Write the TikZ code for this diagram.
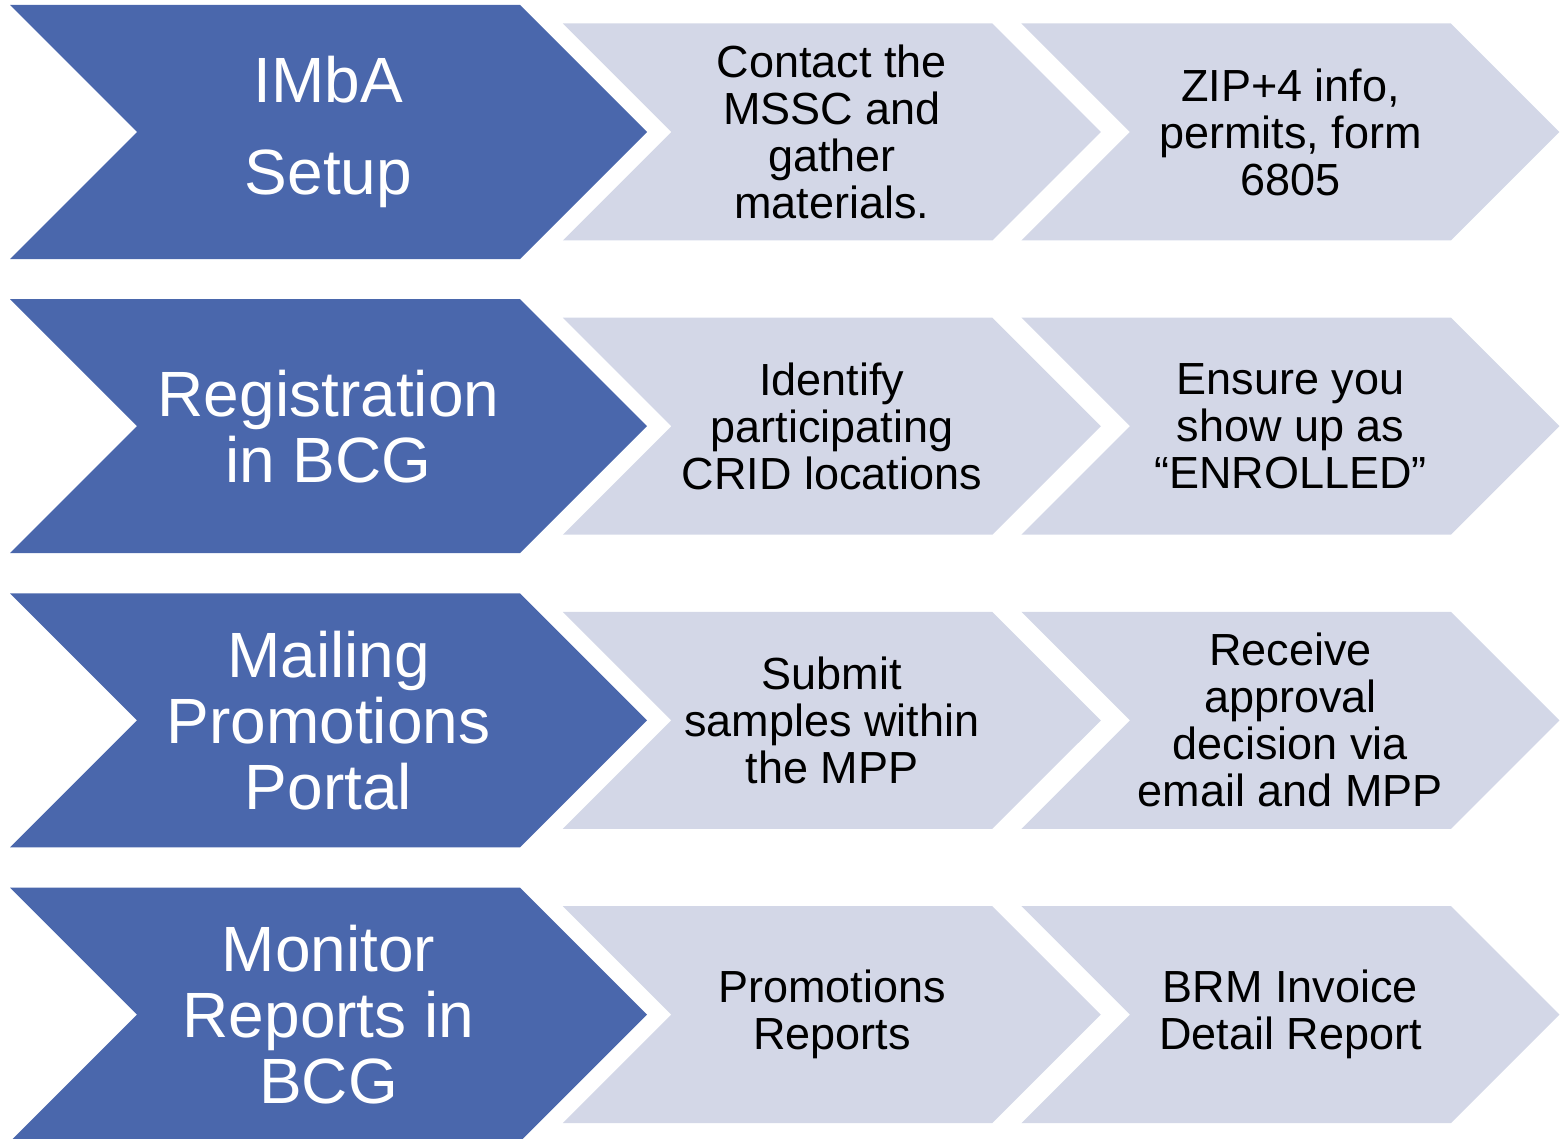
\documentclass[tikz,border=0pt]{standalone}
\usepackage{fontspec}
\setmainfont{Liberation Sans}
\usepackage{xcolor}
\usepackage{tikz}
\usetikzlibrary{positioning, shapes.symbols}

\definecolor{stageblue}{RGB}{74,103,172}
\definecolor{tasklight}{RGB}{211,215,231}

\begin{document}
\begin{tikzpicture}[
    node distance=19.7pt,
    stage/.style={
        signal,
        signal from=west,
        signal to=east,
        fill=stageblue,
        text=white,
        inner sep=0pt,
        align=center,
        minimum width=318.5pt,
        minimum height=127pt,
        font=\fontsize{32}{33}\selectfont
    },
    task/.style={
        signal,
        signal from=west,
        signal to=east,
        fill=tasklight,
        text=black,
        inner sep=0pt,
        align=center,
        minimum width=269pt,
        minimum height=108.5pt,
        font=\fontsize{22.5}{23.5}\selectfont
    }
]
\useasboundingbox (0,0) rectangle (781pt,-569.5pt);

% Left column: the four stages
\node[stage] (setup) at (164.25pt,-66pt) {IMbA\\[13pt]Setup};
\node[stage, below=of setup] (register) {Registration\\in BCG};
\node[stage, below=of register] (portal) {Mailing\\Promotions\\Portal};
\node[stage, below=of portal] (monitor) {Monitor\\Reports in\\BCG};

% Tasks for each stage
\node[task, right=11.6pt of setup] (contact) {Contact the\\MSSC and\\gather\\materials.};
\node[task, right=14pt of contact] (zipinfo) {ZIP+4 info,\\permits, form\\6805};

\node[task, right=11.6pt of register] (crid) {Identify\\participating\\CRID locations};
\node[task, right=14pt of crid] (enrolled) {Ensure you\\show up as\\“ENROLLED”};

\node[task, right=11.6pt of portal] (samples) {Submit\\samples within\\the MPP};
\node[task, right=14pt of samples] (approval) {Receive\\approval\\decision via\\email and MPP};

\node[task, right=11.6pt of monitor] (promoreports) {Promotions\\Reports};
\node[task, right=14pt of promoreports] (brminvoice) {BRM Invoice\\Detail Report};

\end{tikzpicture}
\end{document}
